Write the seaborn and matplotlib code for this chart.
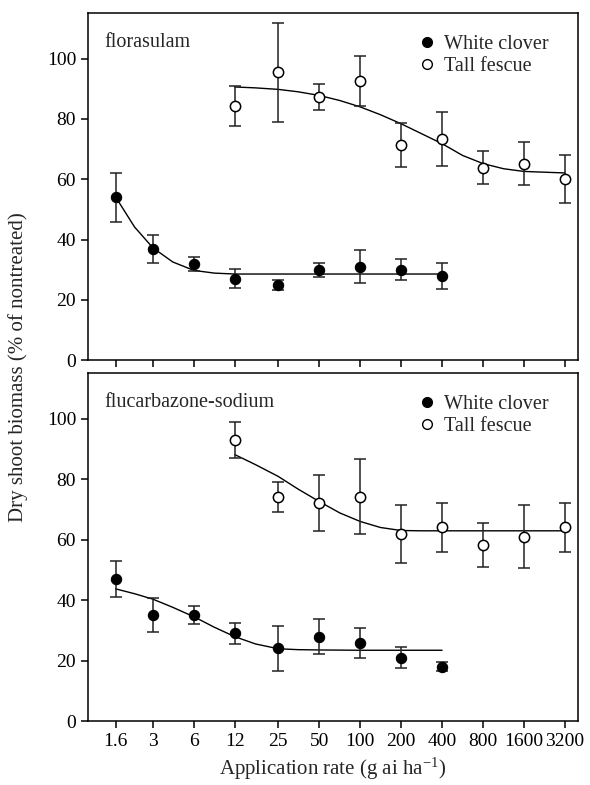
import matplotlib
matplotlib.use('Agg')
import matplotlib.pyplot as plt
import pandas as pd
import numpy as np
import seaborn as sns
from matplotlib.lines import Line2D

sns.set_style('ticks')
plt.rcParams['font.family'] = ['Liberation Serif', 'DejaVu Serif']
plt.rcParams['mathtext.fontset'] = 'custom'
plt.rcParams['mathtext.rm'] = 'Liberation Serif'
plt.rcParams['mathtext.default'] = 'regular'

rates = [1.6, 3, 6, 12, 25, 50, 100, 200, 400, 800, 1600, 3200]
rate_labels = ['1.6', '3', '6', '12', '25', '50', '100', '200', '400', '800', '1600', '3200']

# white clover: 1.6 - 400, tall fescue: 12 - 3200
clover_rates = [1.6, 3, 6, 12, 25, 50, 100, 200, 400]
fescue_rates = [12, 25, 50, 100, 200, 400, 800, 1600, 3200]

# florasulam
flor_clover = [54, 37, 32, 27, 25, 30, 31, 30, 28]
flor_clover_se = [8, 4.6, 2.3, 3.1, 1.7, 2.4, 5.4, 3.5, 4.2]
flor_fescue = [84.4, 95.4, 87.4, 92.6, 71.3, 73.3, 63.9, 65.2, 60.0]
flor_fescue_se = [6.6, 16.4, 4.3, 8.4, 7.2, 8.9, 5.6, 7.2, 7.9]

# flucarbazone-sodium
fluc_clover = [47, 35, 35, 29, 24, 27.9, 25.9, 21, 18]
fluc_clover_se = [6, 5.6, 2.9, 3.5, 7.4, 5.7, 4.9, 3.4, 1.6]
fluc_fescue = [93, 74.1, 72.2, 74.1, 62, 64, 58.1, 61, 64]
fluc_fescue_se = [6, 5, 9.3, 12.4, 9.6, 8, 7.3, 10.3, 8]

# fitted curves
clover_curve_x = [1.6, 2.2, 3, 4.2, 6, 8.5, 12, 17, 25, 35, 50, 100, 200, 400]
fescue_curve_x = [12, 17, 25, 35, 50, 71, 100, 141, 200, 283, 400, 566, 800, 1131, 1600, 3200]
flor_clover_fit = [54.1, 44.2, 37.3, 32.6, 29.8, 28.9, 28.6, 28.6, 28.6, 28.6, 28.6, 28.6, 28.6, 28.6]
flor_fescue_fit = [90.6, 90.3, 89.8, 89.0, 87.8, 86.1, 84.0, 81.4, 78.4, 75.1, 71.8, 67.9, 65.2, 63.5, 62.6, 62.1]
fluc_clover_fit = [43.7, 42.1, 40.3, 37.6, 34.5, 31.0, 27.9, 25.5, 23.9, 23.6, 23.5, 23.4, 23.4, 23.4]
fluc_fescue_fit = [88.1, 84.8, 80.9, 76.7, 72.6, 68.8, 66.0, 64.0, 63.0, 62.9, 62.9, 62.9, 62.9, 62.9, 62.9, 62.9]

panels = [
    ('florasulam', flor_clover, flor_clover_se, flor_fescue, flor_fescue_se, flor_clover_fit, flor_fescue_fit),
    ('flucarbazone-sodium', fluc_clover, fluc_clover_se, fluc_fescue, fluc_fescue_se, fluc_clover_fit, fluc_fescue_fit),
]

fs = 14.5
fig = plt.figure(figsize=(5.9, 7.85), dpi=100)
ax1 = fig.add_axes([0.149, 0.541, 0.831, 0.442])
ax2 = fig.add_axes([0.149, 0.0815, 0.831, 0.443])

for ax, (name, wc, wc_se, tf, tf_se, wc_fit, tf_fit) in zip([ax1, ax2], panels):
    wc_df = pd.DataFrame({'rate': clover_rates, 'y': wc, 'se': wc_se})
    tf_df = pd.DataFrame({'rate': fescue_rates, 'y': tf, 'se': tf_se})
    sns.lineplot(x=clover_curve_x, y=wc_fit, ax=ax, color='black', lw=1.0, zorder=2)
    sns.lineplot(x=fescue_curve_x, y=tf_fit, ax=ax, color='black', lw=1.0, zorder=2)
    ax.errorbar(wc_df['rate'], wc_df['y'], yerr=wc_df['se'], fmt='none', ecolor='#222222',
                elinewidth=1.1, capsize=4, capthick=1.1, zorder=3)
    ax.errorbar(tf_df['rate'], tf_df['y'], yerr=tf_df['se'], fmt='none', ecolor='#222222',
                elinewidth=1.1, capsize=4, capthick=1.1, zorder=3)
    sns.scatterplot(data=wc_df, x='rate', y='y', ax=ax, color='black', edgecolor='black',
                    s=55, linewidth=0.8, zorder=4)
    sns.scatterplot(data=tf_df, x='rate', y='y', ax=ax, color='white', edgecolor='black',
                    s=55, linewidth=1.1, zorder=4)

    ax.set_xscale('log')
    ax.set_xlim(1.0, 4000)
    ax.set_ylim(0, 115)
    ax.set_xticks(rates)
    ax.minorticks_off()
    ax.set_yticks([0, 20, 40, 60, 80, 100])
    ax.set_xlabel('')
    ax.set_ylabel('')
    for sp in ax.spines.values():
        sp.set_linewidth(1.1)
        sp.set_color('black')
    ax.tick_params(axis='both', direction='out', length=5, width=1.1, labelsize=14, colors='black')
    ax.text(0.033, 0.915, name, transform=ax.transAxes, fontsize=fs, va='center', ha='left')

    handles = [
        Line2D([], [], ls='none', marker='o', markersize=7, markerfacecolor='black', markeredgecolor='black'),
        Line2D([], [], ls='none', marker='o', markersize=7, markerfacecolor='white', markeredgecolor='black'),
    ]
    ax.legend(handles, ['White clover', 'Tall fescue'], loc='upper right', bbox_to_anchor=(0.977, 0.99),
              frameon=False, fontsize=fs, handlelength=0.8, handletextpad=0.45, labelspacing=0.15)

ax1.set_xticklabels([])
ax2.set_xticklabels(rate_labels)

fig.text(0.03, 0.532, 'Dry shoot biomass (% of nontreated)', rotation=90, ha='center', va='center', fontsize=fs + 0.5)
fig.text(0.564, 0.004, 'Application rate (g ai ha$^{-1}$)', ha='center', va='bottom', fontsize=fs + 0.5)

fig.savefig('out.png', dpi=100)
